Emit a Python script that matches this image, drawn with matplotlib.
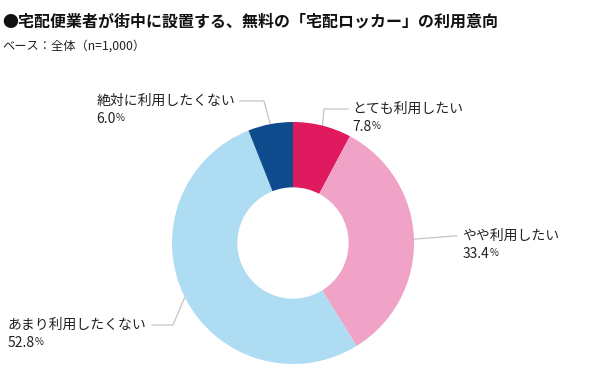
import numpy as np
import matplotlib
matplotlib.use("Agg")
import matplotlib.pyplot as plt

plt.rcParams["font.family"] = ["Noto Sans CJK JP", "DejaVu Sans"]

labels = ["とても利用したい", "やや利用したい", "あまり利用したくない", "絶対に利用したくない"]
values = [7.8, 33.4, 52.8, 6.0]
colors = ["#E01A5F", "#F0A3C6", "#AEDCF3", "#0F4C8E"]

# label layout (pie radius = 1): elbow point, line end, text x, side
layout = [
    dict(elbow=(0.256, 1.107), end=0.455, tx=0.49, ha="left"),
    dict(elbow=None, end=1.355, tx=1.40, ha="left", ty=0.060),
    dict(elbow=(-0.992, -0.678), end=-1.165, tx=-1.21, ha="right"),
    dict(elbow=(-0.240, 1.174), end=-0.438, tx=-0.48, ha="right"),
]

W, H = 600, 385
fig = plt.figure(figsize=(W / 100, H / 100), dpi=100)
cx, cy, R = 293, 243, 121
ax = fig.add_axes([(cx - R) / W, (H - cy - R) / H, 2 * R / W, 2 * R / H])

wedges, _ = ax.pie(values, colors=colors, startangle=90, counterclock=False,
                   radius=1, wedgeprops=dict(width=0.54, edgecolor="none"))
ax.set_xlim(-1, 1); ax.set_ylim(-1, 1); ax.set_aspect("equal"); ax.axis("off")

for w, lab, val, lay in zip(wedges, labels, values, layout):
    ang = np.deg2rad((w.theta1 + w.theta2) / 2)
    sx, sy = np.cos(ang), np.sin(ang)
    if lay["elbow"] is None:
        ey = lay["ty"]
        xs, ys = [sx, lay["end"]], [sy, ey]
    else:
        ex, ey = lay["elbow"]
        xs, ys = [sx, ex, lay["end"]], [sy, ey, ey]
    ax.plot(xs, ys, color="#C4C4C4", lw=0.9, clip_on=False, zorder=0)
    name = ax.text(lay["tx"], ey, lab, ha=lay["ha"], va="center", fontsize=10,
                   color="#222222", clip_on=False)
    num = ax.annotate(f"{val:.1f}", xy=(0, 0), xycoords=name, xytext=(0, -3),
                      textcoords="offset points", ha="left", va="top",
                      fontsize=10, color="#222222")
    ax.annotate("%", xy=(1, 0), xycoords=num, xytext=(0, 2),
                textcoords="offset points", ha="left", va="bottom",
                fontsize=7, color="#222222")

fig.text(2 / W, 1 - 22 / H, "●宅配便業者が街中に設置する、無料の「宅配ロッカー」の利用意向",
         fontsize=11.5, fontweight="bold", va="center", ha="left", color="#111111")
fig.text(2 / W, 1 - 46 / H, "ベース：全体（n=1,000）", fontsize=8.8,
         va="center", ha="left", color="#222222")

fig.savefig("out.png", dpi=100)
